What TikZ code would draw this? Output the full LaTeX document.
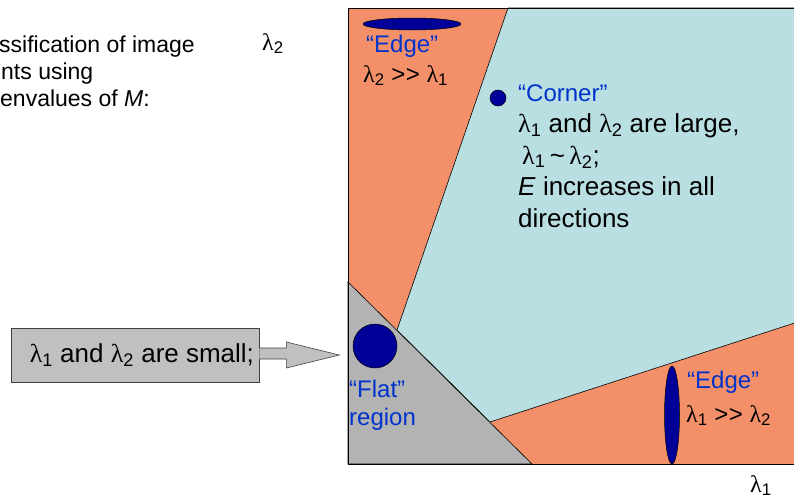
\documentclass[tikz,border=0pt]{standalone}
\usepackage{fontspec}
\setmainfont{Liberation Sans}
\newfontfamily\grk{Liberation Serif}
\usetikzlibrary{positioning,calc}
\definecolor{edgeor}{HTML}{F3906A}
\definecolor{cornercy}{HTML}{BADFE2}
\definecolor{flatgr}{HTML}{B3B3B3}
\definecolor{blob}{HTML}{000099}
\definecolor{lblue}{HTML}{0033CC}
\definecolor{boxgr}{HTML}{C0C0C0}
\newcommand{\lam}[1]{{\grk λ}\textsubscript{#1}}
\newcommand{\muchgt}{>\kern0.5pt>}

\begin{document}
\begin{tikzpicture}[
  x=1pt, y=-1pt,
  lbl/.style={anchor=base west, inner sep=0pt, text=lblue, font=\fontsize{24}{28}\selectfont},
  body/.style={anchor=base west, inner sep=0pt, font=\fontsize{26}{31}\selectfont},
  small/.style={body, font=\fontsize{24}{28}\selectfont},
  region/.style={fill=#1, draw=black, line width=0.6pt},
  blobby/.style={fill=blob, draw=black, line width=0.5pt},
  callout/.style={fill=boxgr, draw=black!75, line width=0.6pt},
]
\clip (0,0) rectangle (794,498);

% eigenvalue plane
\coordinate (tl) at (348,8);
\coordinate (bl) at (348,464);
\coordinate (br) at (810,464);
\coordinate (tr) at (810,8);
\coordinate (split) at (508,8);
\coordinate (knee) at (397,330);
\coordinate (flatl) at (348,282);
\coordinate (flatb) at (532,464);
\coordinate (low) at (490,422);
\coordinate (lowr) at (810,318);

\fill[edgeor] (tl) rectangle (br);
\draw[region=cornercy] (split) -- (tr) -- (lowr) -- (low) -- (knee) -- cycle;
\draw[region=flatgr] (flatl) -- (flatb) -- (bl) -- cycle;
\draw[line width=0.8pt] (tr) -- (tl) -- (bl) -- (br);

% sample ellipses
\filldraw[blobby] (412,24) ellipse [x radius=49, y radius=6];
\filldraw[blobby] (498,98) circle [radius=8];
\filldraw[blobby] (375,346) ellipse [x radius=22, y radius=22];
\filldraw[blobby] (672,415) ellipse [x radius=7.5, y radius=49];

% labels
\node[lbl] (edgetop) at (366,52) {“Edge”};
\node[small] (edgetoplam) at (363,82) {\lam{2} \muchgt{} \lam{1}};
\node[lbl] (cornerlbl) at (518,101) {“Corner”};
\node[body] (corner1) at (518,132.5) {\lam{1} and \lam{2} are large,};
\node[body] (corner2) at (522,164) {\lam{1}\,\~{}\,\lam{2};};
\node[body] (corner3) at (518,195.5) {\textit{E} increases in all};
\node[body] (corner4) at (518,227) {directions};
\node[lbl] (flatlbl) at (349,397) {“Flat”};
\node[lbl] (flatreg) at (349,425) {region};
\node[lbl] (edgebot) at (687,388) {“Edge”};
\node[small] (edgebotlam) at (686,422) {\lam{1} \muchgt{} \lam{2}};

% axes
\node[small] (lamy) at (262,50) {\lam{2}};
\node[small] (lamx) at (750,492) {\lam{1}};

% intro text
\node[body, font=\fontsize{23}{27}\selectfont] (intro1) at (-1,52) {ssification of image};
\node[body, font=\fontsize{23}{27}\selectfont] (intro2) at (1,79) {nts using};
\node[body, font=\fontsize{23}{27}\selectfont] (intro3) at (0,106) {envalues of \textit{M}:};

% callout
\node[callout, minimum width=248pt, minimum height=54pt, inner xsep=5pt,
      font=\fontsize{26}{31}\selectfont] (smallbox) at (135,355)
      {\makebox[238pt][r]{\lam{1} and \lam{2} are small;}};
\draw[callout] (smallbox.east) ++(0,-7) -- ++(27,0) -- ++(0,-6) -- ++(53,13) -- ++(-53,13) -- ++(0,-9) -- ++(-27,0);

\end{tikzpicture}
\end{document}
